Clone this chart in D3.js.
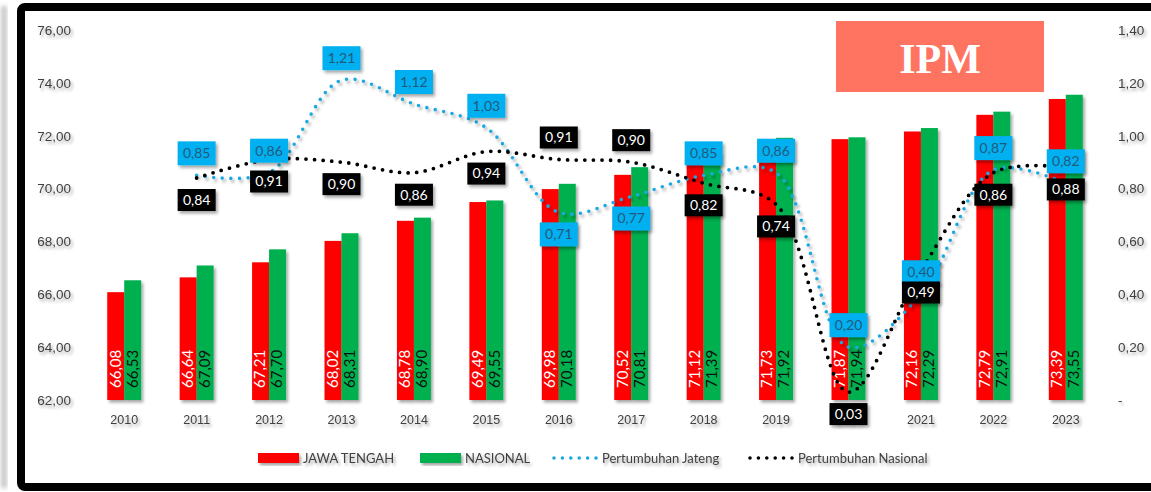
<!DOCTYPE html>
<html>
<head>
<meta charset="utf-8">
<script src="https://cdn.jsdelivr.net/npm/d3@7"></script>
<style>
  body { margin: 0; background: #fff; }
  svg { display: block; font-family: Lato, "Open Sans", sans-serif; }
</style>
</head>
<body>
<div id="chart"></div>
<script>
var years = ["2010","2011","2012","2013","2014","2015","2016","2017","2018","2019","2020","2021","2022","2023"];
var jateng = [66.08, 66.64, 67.21, 68.02, 68.78, 69.49, 69.98, 70.52, 71.12, 71.73, 71.87, 72.16, 72.79, 73.39];
var nasional = [66.53, 67.09, 67.70, 68.31, 68.90, 69.55, 70.18, 70.81, 71.39, 71.92, 71.94, 72.29, 72.91, 73.55];

var growthYears = years.slice(1);
var growthJateng = [0.85, 0.86, 1.21, 1.12, 1.03, 0.71, 0.77, 0.85, 0.86, 0.20, 0.40, 0.87, 0.82];
var growthNasional = [0.84, 0.91, 0.90, 0.86, 0.94, 0.91, 0.90, 0.82, 0.74, 0.03, 0.49, 0.86, 0.88];

var leftTicks = [62, 64, 66, 68, 70, 72, 74, 76];
var rightTicks = [0, 0.2, 0.4, 0.6, 0.8, 1.0, 1.2, 1.4];

var seriesNames = ["JAWA TENGAH", "NASIONAL", "Pertumbuhan Jateng", "Pertumbuhan Nasional"];

var width = 1151, height = 492;
var red = "#ff0000", green = "#00b050", blue = "#1ea8e0", boxBlue = "#00b0f0";

var fmt = d3.formatLocale({decimal: ",", thousands: ".", grouping: [3], currency: ["", ""]}).format(".2f");

var svg = d3.select("#chart")
  .append("svg")
  .attr("width", width)
  .attr("height", height);

var defs = svg.append("defs");
var f = defs.append("filter").attr("id", "shadow")
  .attr("x", "-20%").attr("y", "-20%").attr("width", "150%").attr("height", "150%");
f.append("feDropShadow")
  .attr("dx", 2).attr("dy", 2.5).attr("stdDeviation", 1.6)
  .attr("flood-color", "#000").attr("flood-opacity", 0.35);
var fb = defs.append("filter").attr("id", "blur");
fb.append("feGaussianBlur").attr("stdDeviation", 2);

// outside gray strip + frame
svg.append("rect")
  .attr("x", 1).attr("y", 6).attr("width", 6).attr("height", 482)
  .attr("fill", "#c8c8c8").attr("filter", "url(#blur)");

svg.append("rect")
  .attr("x", 21).attr("y", 7)
  .attr("width", 1200).attr("height", 480)
  .attr("rx", 4)
  .attr("fill", "#fff")
  .attr("stroke", "#000")
  .attr("stroke-width", 8);

var x = d3.scaleBand()
  .domain(years)
  .range([88, 1102])
  .paddingInner(0.531)
  .paddingOuter(0.2655);

var x1 = d3.scaleBand()
  .domain([0, 1])
  .range([0, x.bandwidth()]);

var yL = d3.scaleLinear().domain([62, 76]).range([400, 30]);
var yR = d3.scaleLinear().domain([0, 1.4]).range([400, 30]);

function cx(year) { return x(year) + x.bandwidth() / 2; }

// IPM title box
svg.append("rect")
  .attr("x", 836).attr("y", 21)
  .attr("width", 208).attr("height", 71)
  .attr("fill", "#ff7461");
svg.append("text")
  .attr("x", 940).attr("y", 73)
  .attr("text-anchor", "middle")
  .style("font-family", "'Liberation Serif', 'DejaVu Serif', serif")
  .style("font-weight", "bold")
  .style("font-size", "42px")
  .attr("fill", "#fff")
  .text("IPM");

// left axis
var axL = svg.append("g")
  .attr("transform", "translate(71,0)")
  .call(d3.axisLeft(yL).tickValues(leftTicks).tickSize(0).tickPadding(0).tickFormat(fmt));
axL.select(".domain").remove();
axL.selectAll("text")
  .attr("fill", "#404040")
  .style("font-size", "13.5px")
  .style("font-family", "inherit")
  .attr("filter", "url(#shadow)");

// right axis
var axR = svg.append("g")
  .attr("transform", "translate(1118,0)")
  .call(d3.axisRight(yR).tickValues(rightTicks).tickSize(0).tickPadding(0)
    .tickFormat(function(d) { return d === 0 ? "-" : fmt(d); }));
axR.select(".domain").remove();
axR.selectAll("text")
  .attr("fill", "#404040")
  .style("font-size", "13.5px")
  .style("font-family", "inherit")
  .attr("filter", "url(#shadow)");

// baseline
svg.append("line")
  .attr("x1", 87).attr("x2", 1104)
  .attr("y1", yL(62)).attr("y2", yL(62))
  .attr("stroke", "#c0c0c0")
  .attr("stroke-width", 1.5)
  .attr("filter", "url(#shadow)");

// year labels
var axX = svg.append("g")
  .attr("transform", "translate(0," + (yL(62) + 15) + ")")
  .call(d3.axisBottom(x).tickSize(0).tickPadding(0));
axX.select(".domain").remove();
axX.selectAll("text")
  .attr("fill", "#404040")
  .style("font-size", "12.5px")
  .style("font-family", "inherit")
  .attr("filter", "url(#shadow)");

// bars
var barData = [];
years.forEach(function(yr, i) {
  barData.push({year: yr, s: 0, v: jateng[i]});
  barData.push({year: yr, s: 1, v: nasional[i]});
});

svg.selectAll(".bar")
  .data(barData)
  .enter()
  .append("rect")
  .attr("class", "bar")
  .attr("x", d => x(d.year) + x1(d.s))
  .attr("width", x1.bandwidth())
  .attr("y", d => yL(d.v))
  .attr("height", d => yL(62) - yL(d.v))
  .attr("fill", d => d.s === 0 ? red : green)
  .attr("filter", "url(#shadow)");

svg.selectAll(".barlabel")
  .data(barData)
  .enter()
  .append("text")
  .attr("class", "barlabel")
  .attr("transform", d => "translate(" + (x(d.year) + x1(d.s) + x1.bandwidth() / 2 + 1) + "," + (yL(62) - 12) + ") rotate(-90)")
  .attr("dominant-baseline", "middle")
  .attr("fill", d => d.s === 0 ? "#fff" : "#111")
  .style("font-size", "15px")
  .text(d => fmt(d.v));

// growth lines
var gJ = growthYears.map((yr, i) => ({year: yr, v: growthJateng[i], o: growthNasional[i]}));
var gN = growthYears.map((yr, i) => ({year: yr, v: growthNasional[i], o: growthJateng[i]}));

var line = d3.line()
  .x(d => cx(d.year))
  .y(d => yR(d.v))
  .curve(d3.curveCatmullRom.alpha(0.5));

svg.append("path")
  .datum(gJ)
  .attr("d", line)
  .attr("fill", "none")
  .attr("stroke", blue)
  .attr("stroke-width", 3.6)
  .attr("stroke-linecap", "round")
  .attr("stroke-dasharray", "0,8.6")
  .attr("filter", "url(#shadow)");

svg.append("path")
  .datum(gN)
  .attr("d", line)
  .attr("fill", "none")
  .attr("stroke", "#000")
  .attr("stroke-width", 3.8)
  .attr("stroke-linecap", "round")
  .attr("stroke-dasharray", "0,8.6");

// data labels: Jateng above and Nasional below, swapped where Jateng falls well below
function flipped(d) { return d.s === 0 ? d.v < d.o - 0.1 : d.o < d.v - 0.1; }

var labelData = gJ.map(d => ({year: d.year, v: d.v, o: d.o, s: 0}))
  .concat(gN.map(d => ({year: d.year, v: d.v, o: d.o, s: 1})));

var lab = svg.selectAll(".glabel")
  .data(labelData)
  .enter()
  .append("g")
  .attr("class", "glabel")
  .attr("transform", function(d) {
    var up = (d.s === 0) !== flipped(d);
    return "translate(" + cx(d.year) + "," + (yR(d.v) + (up ? -22 : 22)) + ")";
  });

lab.append("rect")
  .attr("x", -19).attr("y", d => d.s === 0 ? -12 : -11)
  .attr("width", 38).attr("height", d => d.s === 0 ? 24 : 22)
  .attr("fill", d => d.s === 0 ? boxBlue : "#000")
  .attr("filter", "url(#shadow)");

lab.append("text")
  .attr("text-anchor", "middle")
  .attr("dy", "0.35em")
  .attr("fill", d => d.s === 0 ? "#25597c" : "#fff")
  .style("font-size", "14px")
  .text(d => fmt(d.v));

// legend
var legend = svg.append("g").attr("transform", "translate(0,458)");
var legendX = [258, 420, 552, 748];
seriesNames.forEach(function(name, i) {
  var g = legend.append("g").attr("transform", "translate(" + legendX[i] + ",0)");
  if (i < 2) {
    g.append("rect")
      .attr("x", 0).attr("y", -5).attr("width", 41).attr("height", 10)
      .attr("fill", i === 0 ? red : green)
      .attr("filter", "url(#shadow)");
  } else {
    g.append("line")
      .attr("x1", 2).attr("x2", 44).attr("y1", 0).attr("y2", 0)
      .attr("stroke", i === 2 ? blue : "#000")
      .attr("stroke-width", 3.6)
      .attr("stroke-linecap", "round")
      .attr("stroke-dasharray", "0,8.4");
  }
  g.append("text")
    .attr("x", i < 2 ? 45 : 50)
    .attr("dy", "0.35em")
    .attr("fill", "#404040")
    .style("font-size", "13px")
    .attr("filter", "url(#shadow)")
    .text(name);
});
</script>
</body>
</html>
